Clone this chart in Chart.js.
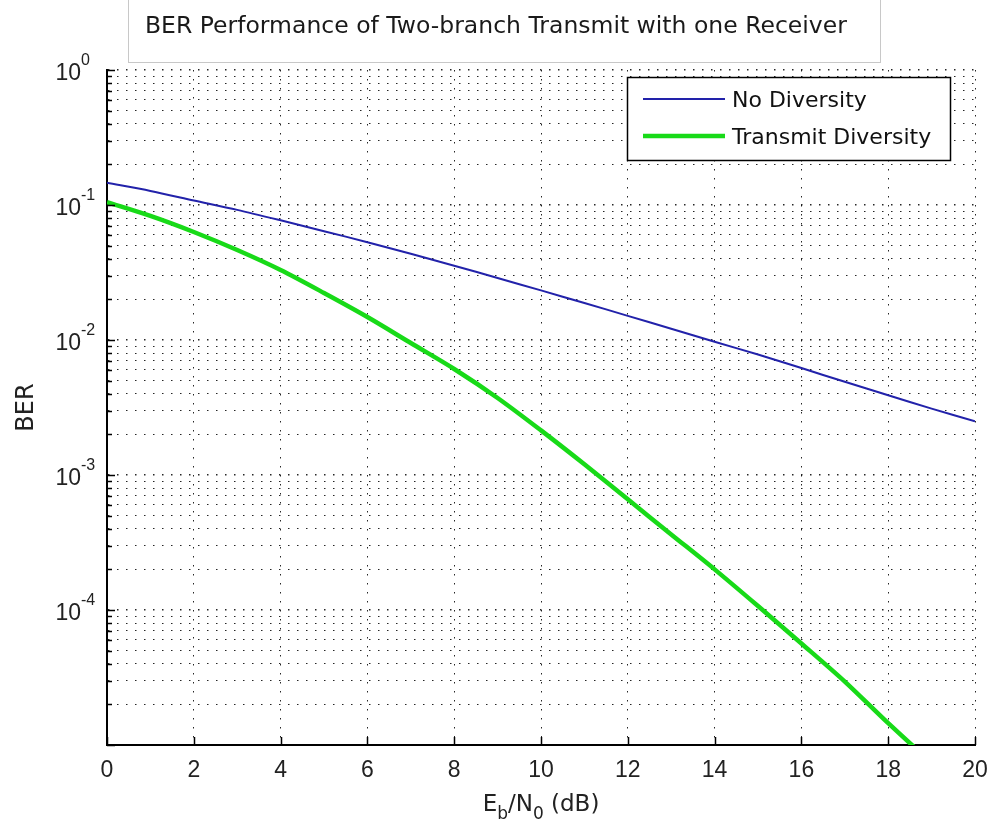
<!DOCTYPE html>
<html>
<head>
<meta charset="utf-8">
<script src="https://cdn.jsdelivr.net/npm/chart.js@4.4.0/dist/chart.umd.min.js"></script>
<style>
  html, body { margin: 0; padding: 0; background: #fff; }
  canvas { display: block; }
</style>
</head>
<body>
<canvas id="ber_chart" width="990" height="823"></canvas>
<script>
// Eb/N0 en dB (axe X)
var snr_db = [0, 1, 2, 3, 4, 5, 6, 7, 8, 9, 10, 11, 12, 13, 14, 15, 16, 17, 18, 19, 20];

// BER sans diversite
var ber_no_div = [0.146, 0.127, 0.108, 0.092, 0.077, 0.064, 0.053, 0.0435, 0.0355, 0.0288, 0.0233,
                  0.0188, 0.0151, 0.0121, 0.0097, 0.0078, 0.0062, 0.0049, 0.0039, 0.0031, 0.0025];

// BER diversite d'emission (2 branches)
var ber_tx_div = [0.105, 0.083, 0.0631, 0.0464, 0.033, 0.0223, 0.0148, 0.0095, 0.0061, 0.00372, 0.00214,
                  0.0012, 0.00066, 0.000363, 0.0002, 0.000107, 0.0000565, 0.0000295, 0.0000145, 0.0000074, 0.0000039];

var series_labels = ['No Diversity', 'Transmit Diversity'];
var chart_title = 'BER Performance of Two-branch Transmit with one Receiver';

// ticks Y : decades + graduations mineures
var y_decades = [1e-5, 1e-4, 1e-3, 1e-2, 1e-1, 1];
var y_decade_labels = ['', '-4', '-3', '-2', '-1', '0'];
var y_minor_mult = [2, 3, 4, 5, 6, 7, 8, 9];

var y_tick_vals = [];
y_decades.forEach(function (d, i) {
  y_tick_vals.push(d);
  if (i < y_decades.length - 1) {
    y_minor_mult.forEach(function (m) { y_tick_vals.push(d * m); });
  }
});

function toPoints(xs, ys) {
  return xs.map(function (x, i) { return {x: x, y: ys[i]}; });
}

function isDecade(v) {
  return y_decades.some(function (d) { return Math.abs(v / d - 1) < 1e-6; });
}

const data_ber_chart = {
  datasets: [{
    label: series_labels[0],
    data: toPoints(snr_db, ber_no_div),
    borderColor: 'rgb(34, 34, 170)',
    backgroundColor: 'rgb(34, 34, 170)',
    borderWidth: 2,
    pointRadius: 0,
    tension: 0.3
  }, {
    label: series_labels[1],
    data: toPoints(snr_db, ber_tx_div),
    borderColor: 'rgb(24, 218, 24)',
    backgroundColor: 'rgb(24, 218, 24)',
    borderWidth: 4.5,
    pointRadius: 0,
    tension: 0.3
  }]
};

// fond blanc, titre, labels, legende
const matlab_look = {
  id: 'matlab_look',
  beforeDraw: function (chart) {
    var ctx = chart.ctx;
    ctx.save();
    ctx.fillStyle = '#fff';
    ctx.fillRect(0, 0, chart.width, chart.height);
    ctx.restore();
  },
  afterDraw: function (chart) {
    var ctx = chart.ctx;
    var area = chart.chartArea;
    var xs = chart.scales.x;
    var ys = chart.scales.y;
    ctx.save();

    // cadre du titre
    ctx.strokeStyle = '#c8c8c8';
    ctx.lineWidth = 1;
    ctx.strokeRect(128.5, -5, 752, 67.5);
    ctx.fillStyle = '#1a1a1a';
    ctx.font = '23.5px "DejaVu Sans"';
    ctx.textAlign = 'left';
    ctx.textBaseline = 'alphabetic';
    ctx.fillText(chart_title, 145, 33);

    // petites graduations vers l'interieur
    ctx.strokeStyle = '#000';
    ctx.lineWidth = 1.5;
    ctx.beginPath();
    y_tick_vals.forEach(function (v) {
      var py = Math.round(ys.getPixelForValue(v)) + 0.5;
      var len = isDecade(v) ? 8 : 5;
      ctx.moveTo(area.left, py);
      ctx.lineTo(area.left + len, py);
    });
    for (var t = 0; t <= 20; t += 2) {
      var px = Math.round(xs.getPixelForValue(t)) + 0.5;
      ctx.moveTo(px, area.bottom);
      ctx.lineTo(px, area.bottom - 8);
    }
    ctx.stroke();

    // labels Y en puissances de 10
    ctx.fillStyle = '#222';
    y_decades.forEach(function (v, i) {
      if (!y_decade_labels[i]) return;
      var py = ys.getPixelForValue(v);
      ctx.textAlign = 'right';
      ctx.font = '23px "Liberation Sans"';
      ctx.fillText('10', 81, py + 10);
      ctx.textAlign = 'left';
      ctx.font = '16px "Liberation Sans"';
      ctx.fillText(y_decade_labels[i], 81, py - 5);
    });

    // titre axe Y
    ctx.save();
    ctx.translate(33, (area.top + area.bottom) / 2 + 0);
    ctx.rotate(-Math.PI / 2);
    ctx.textAlign = 'center';
    ctx.font = '24px "DejaVu Sans"';
    ctx.fillText('BER', 0, 0);
    ctx.restore();

    // titre axe X : Eb/N0 (dB)
    var cx = (area.left + area.right) / 2;
    var baseY = 811;
    var parts = [
      {t: 'E', sub: false}, {t: 'b', sub: true}, {t: '/N', sub: false},
      {t: '0', sub: true}, {t: ' (dB)', sub: false}
    ];
    var fMain = '23px "DejaVu Sans"', fSub = '17px "DejaVu Sans"';
    var total = 0;
    parts.forEach(function (p) {
      ctx.font = p.sub ? fSub : fMain;
      p.w = ctx.measureText(p.t).width;
      total += p.w;
    });
    var x0 = cx - total / 2;
    ctx.textAlign = 'left';
    parts.forEach(function (p) {
      ctx.font = p.sub ? fSub : fMain;
      ctx.fillText(p.t, x0, p.sub ? baseY + 8 : baseY);
      x0 += p.w;
    });

    // legende
    var lx = 627.5, ly = 77.5, lw = 323, lh = 83;
    ctx.fillStyle = '#fff';
    ctx.fillRect(lx, ly, lw, lh);
    ctx.strokeStyle = '#000';
    ctx.lineWidth = 1.5;
    ctx.strokeRect(lx, ly, lw, lh);
    var rows = [99, 136];
    chart.data.datasets.forEach(function (ds, i) {
      ctx.strokeStyle = ds.borderColor;
      ctx.lineWidth = ds.borderWidth;
      ctx.beginPath();
      ctx.moveTo(643, rows[i]);
      ctx.lineTo(725, rows[i]);
      ctx.stroke();
      ctx.fillStyle = '#111';
      ctx.font = '22px "DejaVu Sans"';
      ctx.textAlign = 'left';
      ctx.textBaseline = 'middle';
      ctx.fillText(ds.label, 732, rows[i] + 2);
    });

    ctx.restore();
  }
};

const config_ber_chart = {
  type: 'line',
  data: data_ber_chart,
  options: {
    responsive: false,
    animation: false,
    layout: {padding: {top: 70, right: 15, left: 0, bottom: 0}},
    plugins: {
      legend: {display: false},
      tooltip: {enabled: false}
    },
    scales: {
      x: {
        type: 'linear',
        min: 0,
        max: 20,
        ticks: {
          stepSize: 2,
          color: '#222',
          padding: 12,
          font: {family: 'Liberation Sans', size: 23}
        },
        grid: {color: 'rgba(0,0,0,0.85)', lineWidth: 1, drawTicks: false},
        border: {color: '#000', width: 2, dash: [1.5, 7.5]},
        afterFit: function (s) {
          s.height = 78;
          s.paddingLeft = 0;
          s.paddingRight = 0;
        }
      },
      y: {
        type: 'logarithmic',
        min: 1e-5,
        max: 1,
        ticks: {display: false},
        afterBuildTicks: function (s) {
          s.ticks = y_tick_vals.map(function (v) { return {value: v}; });
        },
        grid: {
          color: 'rgba(0,0,0,0.85)',
          lineWidth: function (c) { return (c.tick && isDecade(c.tick.value)) ? 1.6 : 1; },
          drawTicks: false
        },
        border: {color: '#000', width: 2, dash: [1.5, 7.5]},
        afterFit: function (s) {
          s.width = 107;
          s.paddingTop = 0;
          s.paddingBottom = 0;
        }
      }
    }
  },
  plugins: [matlab_look]
};

const ber_chart = new Chart(
  document.getElementById('ber_chart'),
  config_ber_chart
);
</script>
</body>
</html>
